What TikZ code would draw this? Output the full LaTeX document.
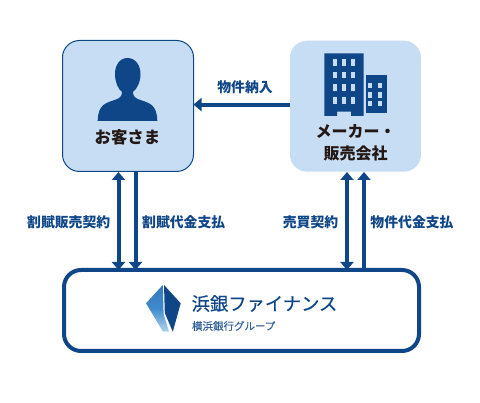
\documentclass[tikz,border=0pt]{standalone}
\usepackage{fontspec}
\newfontfamily\jp{Noto Sans CJK JP}
\newfontfamily\jpm[FakeBold=0.35]{Noto Sans CJK JP}
\usetikzlibrary{arrows.meta}
\definecolor{navy}{HTML}{0F4688}
\definecolor{pale}{HTML}{C6DDF3}
\definecolor{ink}{HTML}{231815}
\definecolor{logotop}{RGB}{52,122,190}
\definecolor{logomid}{RGB}{62,138,204}
\definecolor{logobot}{RGB}{178,212,240}
\tikzset{
  panel/.style={rectangle,rounded corners=17pt,fill=pale,minimum width=131pt,minimum height=131pt,inner sep=0pt,outer sep=0pt},
  conn/.style={draw=navy,line width=4pt,-{Triangle[width=13pt,length=8pt,fill=navy]}},
  conntwo/.style={draw=navy,line width=4pt,{Triangle[width=13pt,length=8pt,fill=navy]}-{Triangle[width=13pt,length=8pt,fill=navy]}},
  lab/.style={font=\jp\bfseries\fontsize{13.85}{15}\selectfont,text=navy,inner sep=0pt},
  partyname/.style={font=\jp\bfseries\fontsize{16}{22}\selectfont,text=ink,inner sep=0pt,align=center},
}
\begin{document}
\begin{tikzpicture}[x=1pt,y=-1pt]
\useasboundingbox (0,0) rectangle (480,403);
\fill[white] (0,0) rectangle (480,403);
\node[panel,draw=navy,line width=1pt] (cust) at (128,106) {};
\node[panel] (maker) at (355.5,106.2) {};
\node[rectangle,rounded corners=17pt,draw=navy,line width=4pt,fill=white,minimum width=355pt,minimum height=81pt,inner sep=0pt,outer sep=0pt] (fin) at (241.5,310.5) {};
% connectors
\draw[conn] (maker.west |- 0,104.6) -- (cust.east |- 0,104.6);
\coordinate (c1) at (118.5,172);
\coordinate (c2) at (135.5,172);
\coordinate (m1) at (347,172);
\coordinate (m2) at (364,172);
\draw[conntwo] (c1) -- (c1 |- fin.north);
\draw[conn] (c2) -- (c2 |- fin.north);
\draw[conntwo] (m1) -- (m1 |- fin.north);
\draw[conn] (m2 |- fin.north) -- (m2);
% labels
\node[lab] (l0) at (245,87.5) {物件納入};
\node[lab] (l1) at (68.7,222.5) {割賦販売契約};
\node[lab] (l2) at (183.7,222.5) {割賦代金支払};
\node[lab] (l3) at (310.5,222.5) {売買契約};
\node[lab] (l4) at (412,222.5) {物件代金支払};
\node[partyname,font=\jp\bfseries\fontsize{16.4}{22}\selectfont] (n1) at (127.5,137.5) {お客さま};
\node[partyname] (n2) at (355.5,143) {メーカー・\\販売会社};
% person
\fill[navy] (127.5,58) .. controls (119,58) and (115,66) .. (115,74)
  .. controls (115,82) and (118,89) .. (122,92)
  .. controls (122,96) and (120,98) .. (116,99.5)
  .. controls (106,103) and (98,104) .. (97.7,121)
  -- (157.3,121)
  .. controls (157,104) and (149,103) .. (139,99.5)
  .. controls (135,98) and (133,96) .. (133,92)
  .. controls (137,89) and (140.5,82) .. (140.5,74)
  .. controls (140.5,66) and (136,58) .. (127.5,58) -- cycle;
% buildings
\fill[navy] (324.3,53.3) -- (363.7,53.3) -- (363.7,116) -- (351,116) -- (351,111.7) -- (337,111.7) -- (337,116) -- (324.3,116) -- cycle;
\fill[navy] (366,75) rectangle (386.7,113.3);
\foreach \wx in {335,344,352.7}\foreach \wy in {62.3,75,87.7,100.3}
  \fill[pale] (\wx-1.8,\wy-3.4) rectangle (\wx+1.8,\wy+3.4);
\foreach \wx in {370,380.3}\foreach \wy in {85.7,95,103.7}
  \fill[pale] (\wx-1.9,\wy-2.7) rectangle (\wx+1.9,\wy+2.7);
% logo
\shade[top color=logotop,bottom color=logobot,middle color=logomid]
  (162.8,285) -- (146,303.3) -- (163,331.7) -- (169,331.7) -- (163.6,314) -- cycle;
\fill[navy] (164,285) -- (180.7,303.3) -- (172.8,331.7) -- (164.8,313) -- cycle;
\node[font=\jpm\fontsize{18.3}{20}\selectfont,text=navy,inner sep=0pt] (lg1) at (264.5,303.5) {浜銀ファイナンス};
\node[font=\jpm\fontsize{10.5}{12}\selectfont,text=navy!85!white,inner sep=0pt] (lg2) at (233.7,326) {横浜銀行グループ};
\end{tikzpicture}
\end{document}
